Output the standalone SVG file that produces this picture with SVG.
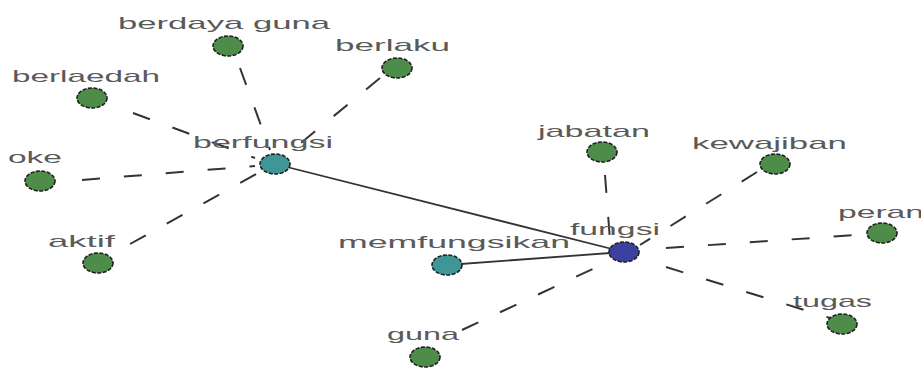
<svg xmlns="http://www.w3.org/2000/svg" width="921" height="369" viewBox="0 0 921 369">
<style>
text{font-family:"Liberation Sans",Arial,sans-serif;font-size:17px;fill:#5a5a5a}
.d{stroke:#333;stroke-width:2;stroke-dasharray:18 24;fill:none}
.s{stroke:#333;stroke-width:1.8;fill:none}
.n{stroke:#1e1e1e;stroke-width:1.6;stroke-dasharray:4 1.5}
.g{fill:#4e8c4a}
.t{fill:#3f9696}
.b{fill:#3c40a0}
</style>
<rect width="921" height="369" fill="#fff"/>
<g id="edges">
<line class="d" x1="240" y1="68" x2="270" y2="150"/>
<line class="d" x1="380" y1="78" x2="290" y2="152"/>
<line class="d" x1="133" y1="113" x2="255" y2="158"/>
<line class="d" x1="82" y1="180" x2="255" y2="166"/>
<line class="d" x1="130" y1="244" x2="260" y2="172"/>
<line class="s" x1="275" y1="164" x2="624" y2="252"/>
<line class="s" x1="447" y1="265" x2="624" y2="252"/>
<line class="d" x1="605" y1="175" x2="610" y2="240"/>
<line class="d" x1="757" y1="172" x2="640" y2="245"/>
<line class="d" x1="666" y1="248" x2="870" y2="234"/>
<line class="d" x1="666" y1="267" x2="830" y2="318"/>
<line class="d" x1="462" y1="330" x2="612" y2="260"/>
</g>
<g id="berdaya-guna"><ellipse class="n g" cx="228" cy="46" rx="15" ry="10"/><text x="118" y="29" textLength="212" lengthAdjust="spacingAndGlyphs">berdaya guna</text></g>
<g id="berlaku"><ellipse class="n g" cx="397" cy="68" rx="15" ry="10"/><text x="335" y="51" textLength="115" lengthAdjust="spacingAndGlyphs">berlaku</text></g>
<g id="berlaedah"><ellipse class="n g" cx="92" cy="98" rx="15" ry="10"/><text x="12" y="82" textLength="148" lengthAdjust="spacingAndGlyphs">berlaedah</text></g>
<g id="berfungsi"><ellipse class="n t" cx="275" cy="164" rx="15" ry="10"/><text x="193" y="148" textLength="140" lengthAdjust="spacingAndGlyphs">berfungsi</text></g>
<g id="oke"><ellipse class="n g" cx="40" cy="181" rx="15" ry="10"/><text x="8" y="163" textLength="54" lengthAdjust="spacingAndGlyphs">oke</text></g>
<g id="aktif"><ellipse class="n g" cx="98" cy="263" rx="15" ry="10"/><text x="48" y="247" textLength="67" lengthAdjust="spacingAndGlyphs">aktif</text></g>
<g id="memfungsikan"><ellipse class="n t" cx="447" cy="265" rx="15" ry="10"/><text x="338" y="248" textLength="232" lengthAdjust="spacingAndGlyphs">memfungsikan</text></g>
<g id="guna"><ellipse class="n g" cx="425" cy="357" rx="15" ry="10"/><text x="387" y="340" textLength="72" lengthAdjust="spacingAndGlyphs">guna</text></g>
<g id="jabatan"><ellipse class="n g" cx="602" cy="152" rx="15" ry="10"/><text x="538" y="137" textLength="112" lengthAdjust="spacingAndGlyphs">jabatan</text></g>
<g id="kewajiban"><ellipse class="n g" cx="775" cy="164" rx="15" ry="10"/><text x="692" y="149" textLength="155" lengthAdjust="spacingAndGlyphs">kewajiban</text></g>
<g id="fungsi"><ellipse class="n b" cx="624" cy="252" rx="15" ry="10"/><text x="570" y="235" textLength="90" lengthAdjust="spacingAndGlyphs">fungsi</text></g>
<g id="peran"><ellipse class="n g" cx="882" cy="233" rx="15" ry="10"/><text x="838" y="218" textLength="86" lengthAdjust="spacingAndGlyphs">peran</text></g>
<g id="tugas"><ellipse class="n g" cx="842" cy="324" rx="15" ry="10"/><text x="793" y="307" textLength="79" lengthAdjust="spacingAndGlyphs">tugas</text></g>
</svg>
